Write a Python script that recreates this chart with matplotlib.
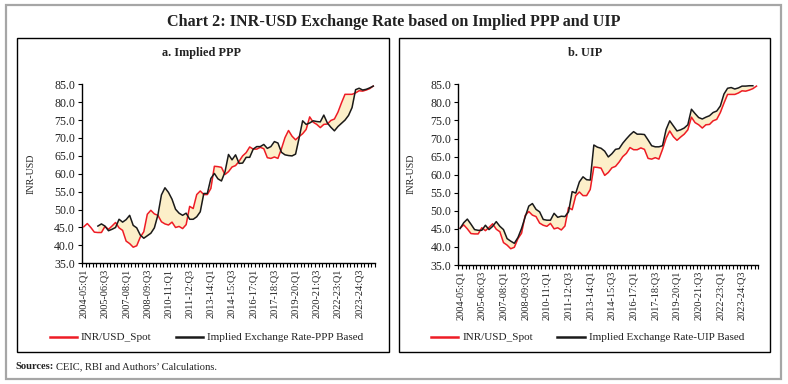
import numpy as np
import matplotlib
matplotlib.use("Agg")
import matplotlib.pyplot as plt
from matplotlib.patches import Rectangle
from matplotlib.lines import Line2D

# ---------------- data ----------------
fiscal_years = [f"{y}-{str(y + 1)[-2:]}" for y in range(2004, 2025)]
quarters = [f"{fy}:Q{q}" for fy in fiscal_years for q in range(1, 5)][:83]

tick_labels = ["2004-05:Q1", "2005-06:Q3", "2007-08:Q1", "2008-09:Q3", "2010-11:Q1",
               "2011-12:Q3", "2013-14:Q1", "2014-15:Q3", "2016-17:Q1", "2017-18:Q3",
               "2019-20:Q1", "2020-21:Q3", "2022-23:Q1", "2023-24:Q3"]

spot = [45.2, 46.1, 45.0, 43.7,   # 2004-05
        43.6, 43.6, 45.3, 44.5,   # 2005-06
        45.4, 46.4, 44.9, 44.2,   # 2006-07
        41.2, 40.5, 39.5, 39.9,   # 2007-08
        42.3, 43.8, 48.7, 49.8,   # 2008-09
        48.8, 48.4, 46.6, 46.0,   # 2009-10
        45.7, 46.5, 45.0, 45.3,   # 2010-11
        44.7, 45.8, 50.9, 50.3,   # 2011-12
        54.2, 55.2, 54.2, 54.2,   # 2012-13
        55.9, 62.1, 62.0, 61.8,   # 2013-14
        59.8, 60.6, 61.9, 62.3,   # 2014-15
        63.5, 65.0, 65.9, 67.5,   # 2015-16
        66.9, 66.9, 67.4, 67.0,   # 2016-17
        64.5, 64.3, 64.7, 64.3,   # 2017-18
        67.0, 70.1, 72.1, 70.5,   # 2018-19
        69.5, 70.4, 71.2, 72.4,   # 2019-20
        75.9, 74.4, 73.8, 72.9,   # 2020-21
        73.8, 73.9, 74.9, 75.3,   # 2021-22
        77.2, 79.8, 82.2, 82.2,   # 2022-23
        82.2, 82.6, 83.2, 83.1,   # 2023-24
        83.4, 83.8, 84.5]         # 2024-25

ppp = [None, None, None, None,    # 2004-05
       45.4, 46.0, 45.4, 44.1,    # 2005-06
       44.5, 45.0, 47.3, 46.5,    # 2006-07
       47.2, 48.4, 45.6, 44.9,    # 2007-08
       42.9, 42.0, 42.7, 43.4,    # 2008-09
       44.9, 48.5, 54.1, 56.1,    # 2009-10
       54.8, 52.9, 50.1, 49.0,    # 2010-11
       48.4, 49.0, 47.3, 47.3,    # 2011-12
       48.0, 49.4, 54.5, 54.5,    # 2012-13
       58.7, 60.1, 58.6, 58.0,    # 2013-14
       60.5, 65.4, 63.9, 65.3,    # 2014-15
       62.9, 63.0, 64.6, 64.6,    # 2015-16
       66.9, 67.6, 67.6, 68.2,    # 2016-17
       67.1, 67.6, 69.0, 68.6,    # 2017-18
       66.0, 65.3, 65.1, 65.0,    # 2018-19
       65.5, 70.0, 74.8, 73.8,    # 2019-20
       74.2, 74.8, 74.6, 74.5,    # 2020-21
       76.4, 74.2, 73.0, 72.0,    # 2021-22
       73.2, 74.1, 75.0, 76.3,    # 2022-23
       78.5, 83.5, 83.9, 83.4,    # 2023-24
       83.6, 84.0, 84.5]          # 2024-25

uip = [45.1, 46.7, 47.7, 46.3,    # 2004-05
       44.8, 44.6, 44.6, 46.0,    # 2005-06
       44.8, 45.7, 47.0, 45.7,    # 2006-07
       44.8, 42.3, 41.6, 41.0,    # 2007-08
       42.6, 45.1, 48.3, 51.3,    # 2008-09
       52.0, 50.4, 49.7, 47.6,    # 2009-10
       47.4, 47.4, 49.3, 48.2,    # 2010-11
       48.5, 48.4, 49.7, 55.3,    # 2011-12
       54.9, 58.0, 59.4, 58.6,    # 2012-13
       58.5, 68.2, 67.6, 67.3,    # 2013-14
       66.5, 64.9, 65.8, 67.0,    # 2014-15
       67.2, 68.7, 69.9, 71.0,    # 2015-16
       71.9, 71.2, 71.2, 71.1,    # 2016-17
       69.6, 68.0, 67.7, 67.7,    # 2017-18
       68.0, 72.5, 74.9, 73.5,    # 2018-19
       72.1, 72.4, 72.9, 73.8,    # 2019-20
       78.1, 76.9, 75.8, 75.4,    # 2020-21
       75.9, 76.3, 77.2, 77.6,    # 2021-22
       79.0, 82.3, 83.9, 84.1,    # 2022-23
       83.7, 84.0, 84.5, 84.5,    # 2023-24
       84.6, 84.6, None]          # 2024-25

# ---------------- style ----------------
W, H = 788, 384
SERIF = ["Liberation Serif", "DejaVu Serif"]
RED = "#EE1C25"
BLACK = "#1A1A1A"
FILL = "#FCEFC9"
TXT = "#222222"

plt.rcParams["font.family"] = SERIF

fig = plt.figure(figsize=(W / 100, H / 100), dpi=100)
fig.patch.set_facecolor("white")


def fx(px):
    return px / W


def fy(py):
    return 1 - py / H


# outer grey frame
fig.add_artist(Rectangle((fx(6), fy(379)), fx(781) - fx(6), fy(5) - fy(379),
                         transform=fig.transFigure, fill=False, ec="#A6A6A6", lw=1.6))
# panel frames
for x0, x1 in [(17, 389), (399, 770)]:
    fig.add_artist(Rectangle((fx(x0), fy(352)), fx(x1) - fx(x0), fy(38) - fy(352),
                             transform=fig.transFigure, fill=False, ec="black", lw=1.0))

fig.text(0.5, fy(22), "Chart 2: INR-USD Exchange Rate based on Implied PPP and UIP",
         ha="center", va="center", fontsize=11.6, fontweight="bold", color=TXT)

x = np.arange(len(quarters))
spot_a = np.array(spot, dtype=float)


def draw_panel(rect, title, title_x, implied, implied_label, ylab_x, legend_x):
    ax = fig.add_axes(rect)
    imp = np.array([np.nan if v is None else v for v in implied], dtype=float)
    ok = np.isfinite(imp)
    ax.fill_between(x, spot_a, np.where(ok, imp, spot_a), where=ok,
                    color=FILL, lw=0, zorder=1)
    ax.plot(x, spot_a, color=RED, lw=1.1, zorder=3)
    ax.plot(x, imp, color=BLACK, lw=1.1, zorder=4)

    ax.set_xlim(-0.5, len(quarters) - 0.5)
    ax.set_ylim(35, 85)
    yt = np.arange(35, 86, 5)
    ax.set_yticks(yt)
    ax.set_yticklabels([f"{v:.1f}" for v in yt], fontsize=8.6, color=TXT)
    pos = [quarters.index(t) for t in tick_labels]
    ax.set_xticks(pos)
    ax.set_xticklabels(tick_labels, rotation=90, fontsize=7.4, color=TXT)
    ax.set_xticks(np.arange(-0.5, len(quarters), 1), minor=True)
    ax.tick_params(axis="x", which="major", length=0, pad=4)
    ax.tick_params(axis="x", which="minor", length=3, width=0.8, direction="out")
    ax.tick_params(axis="y", which="major", length=3, width=0.8, direction="out", pad=2)
    for s in ("top", "right"):
        ax.spines[s].set_visible(False)
    for s in ("left", "bottom"):
        ax.spines[s].set_linewidth(1.0)
        ax.spines[s].set_color("black")
    ax.patch.set_alpha(0)

    fig.text(fx(title_x), fy(53), title, ha="center", va="center",
             fontsize=8.8, fontweight="bold", color=TXT)
    fig.text(fx(ylab_x), fy(174), "INR-USD", rotation=90, ha="center", va="center",
             fontsize=7.2, color=TXT)

    lx = legend_x
    ly = fy(337)
    fig.add_artist(Line2D([fx(lx[0]), fx(lx[1])], [ly, ly], color=RED, lw=1.8,
                          transform=fig.transFigure))
    fig.text(fx(lx[2]), ly, "INR/USD_Spot", ha="left", va="center", fontsize=8, color=TXT)
    fig.add_artist(Line2D([fx(lx[3]), fx(lx[4])], [ly, ly], color=BLACK, lw=1.8,
                          transform=fig.transFigure))
    fig.text(fx(lx[5]), ly, implied_label, ha="left", va="center", fontsize=8, color=TXT)
    return ax


axL = draw_panel([fx(82), fy(263.3), fx(375) - fx(82), fy(84.3) - fy(263.3)],
                 "a. Implied PPP", 202, ppp, "Implied Exchange Rate-PPP Based",
                 31, (50, 77, 81, 176, 203, 207))
axR = draw_panel([fx(458.3), fy(265), fx(758.3) - fx(458.3), fy(84.3) - fy(265)],
                 "b. UIP", 585, uip, "Implied Exchange Rate-UIP Based",
                 411, (431, 458, 463, 557, 585, 589))

fig.text(fx(15), fy(369), "Sources:", ha="left", va="baseline",
         fontsize=7.6, fontweight="bold", color=TXT)
fig.text(fx(56), fy(369), "CEIC, RBI and Authors\u2019 Calculations.", ha="left",
         va="baseline", fontsize=7.6, color=TXT)

fig.savefig("out.png", dpi=100, facecolor="white")
